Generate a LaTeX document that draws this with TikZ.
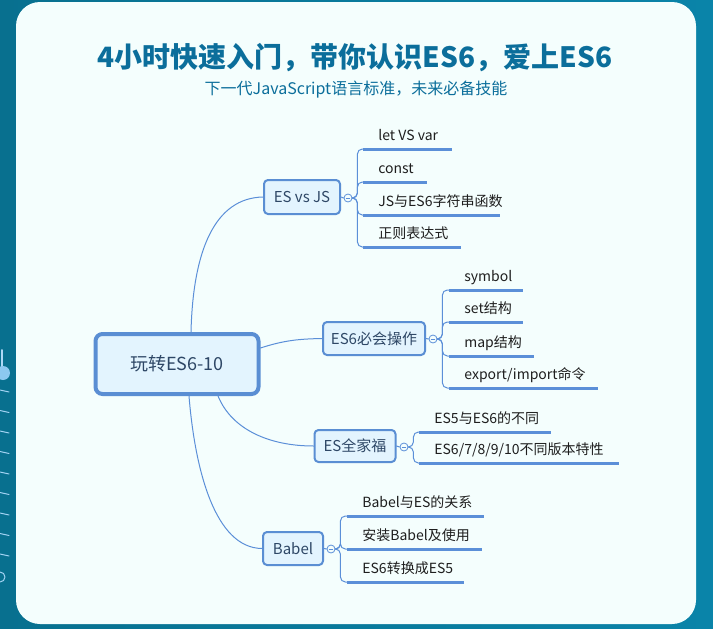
\documentclass[tikz,border=0pt]{standalone}
\usepackage{fontspec}
\setmainfont{Noto Sans CJK SC}
\definecolor{bgteal}{HTML}{0A84A9}
\definecolor{bgdark}{HTML}{08708F}
\definecolor{panel}{HTML}{F4FEFD}
\definecolor{titleblue}{HTML}{0B6E9B}
\definecolor{branch}{HTML}{5B8FD8}
\definecolor{boxline}{HTML}{5A8ED3}
\definecolor{boxfill}{HTML}{E3F4FE}
\definecolor{boxtxt}{HTML}{2E4766}
\definecolor{leaftxt}{HTML}{1E1E1E}
\definecolor{knob}{HTML}{8CC8F0}
\begin{document}
\begin{tikzpicture}[x=1pt,y=-1pt,line join=round,line cap=round,thick]
				\tikzset{every node/.style={text=leaftxt},
					rootbox/.style={draw=boxline,fill=boxfill,line width=4pt,rounded corners=7pt,text=boxtxt,font=\fontsize{18}{18}\selectfont,minimum width=163pt,minimum height=60pt},
					box/.style={draw=boxline,fill=boxfill,line width=2pt,rounded corners=4pt,text=boxtxt,font=\fontsize{15}{15}\selectfont,inner sep=0pt},
					fold/.style={circle,draw=branch,fill=panel,line width=0.8pt,minimum size=8pt,inner sep=0pt,path picture={\draw[branch,line width=0.6pt] ([xshift=-1.8pt]path picture bounding box.center)--([xshift=1.8pt]path picture bounding box.center);}},
					leaf/.style={anchor=south west,inner xsep=15pt,inner ysep=0pt,text height=11pt,text depth=8pt,font=\fontsize{14}{14}\selectfont},
					uline/.style={draw=branch,line width=3pt,line cap=butt},
					link/.style={draw=branch,line width=1pt},
					sub/.style={link,rounded corners=5pt}}
				\useasboundingbox (0,0) rectangle (713,629);
				\shade[left color=bgdark,right color=bgteal] (0,0) rectangle (713,629);
				\fill[panel,rounded corners=24pt] (16,2) rectangle (696,624);
				\draw[knob!70,line width=2pt] (2,350)--(2,373);
				\fill[knob] (3,373) circle (7);
				\foreach \y in {390,410.5,...,556}
				\draw[knob!80,line width=1pt] (0,\y)--(9,\y+2);
				\draw[knob!80,line width=1pt] (0,577) circle (5);
				\node[font=\bfseries\fontsize{28}{28}\selectfont,text=titleblue] (ttl) at (355,58) {4小时快速入门，带你认识ES6，爱上ES6};
				\node[font=\fontsize{16}{16}\selectfont,text=titleblue] (sub) at (356,90) {下一代JavaScript语言标准，未来必备技能};
				\node[rootbox] (root) at (177,364) {玩转ES6-10};
				\node[box,minimum width=76pt,minimum height=34pt] (esjs) at (302,197) {ES vs JS};
				\node[box,minimum width=102pt,minimum height=33pt] (ops) at (374,338.5) {ES6必会操作};
				\node[box,minimum width=81pt,minimum height=32pt] (fam) at (355,446) {ES全家福};
				\node[box,minimum width=60pt,minimum height=33pt] (babel) at (293,548.5) {Babel};
				\node[fold] (fa) at (348,198) {};
				\node[fold] (fb) at (433,339) {};
				\node[fold] (fc) at (404,447) {};
				\node[fold] (fd) at (331,549) {};
				\draw[link] ([xshift=14pt]root.north) .. controls (193,250) and (215,198) .. (esjs.west);
				\draw[link] ([yshift=16pt]root.east) .. controls (285,340) and (300,339) .. (ops.west);
				\draw[link] ([xshift=41pt]root.south) .. controls (232,430) and (270,446) .. (fam.west);
				\draw[link] ([xshift=12pt]root.south) .. controls (195,470) and (215,548) .. (babel.west);
				\draw[link] (esjs.east)--(fa.west);
				\draw[link] (ops.east)--(fb.west);
				\draw[link] (fam.east)--(fc.west);
				\draw[link] (babel.east)--(fd.west);
				\foreach \y/\w/\t [count=\i] in {149/89/let VS var,182/64/const,215/137/JS与ES6字符串函数,247/98/正则表达式}{
					\node[leaf] (a\i) at (363,\y) {\t};
					\draw[uline] (a\i.south west)--++(\w,0);
					\draw[sub] (fa.east)--++(5,0)|-(a\i.south west);
				}
				\foreach \y/\w/\t [count=\i] in {290/74/symbol,322/74/set结构,356/85/map结构,388/149/{export/import命令}}{
					\node[leaf] (b\i) at (449,\y) {\t};
					\draw[uline] (b\i.south west)--++(\w,0);
					\draw[sub] (fb.east)--++(5,0)|-(b\i.south west);
				}
				\foreach \y/\w/\t [count=\i] in {432/132/ES5与ES6的不同,463/200/{ES6/7/8/9/10不同版本特性}}{
					\node[leaf] (c\i) at (419,\y) {\t};
					\draw[uline] (c\i.south west)--++(\w,0);
					\draw[sub] (fc.east)--++(5,0)|-(c\i.south west);
				}
				\foreach \y/\w/\t [count=\i] in {516/137/Babel与ES的关系,549/135/安装Babel及使用,582/117/ES6转换成ES5}{
					\node[leaf] (d\i) at (347,\y) {\t};
					\draw[uline] (d\i.south west)--++(\w,0);
					\draw[sub] (fd.east)--++(5,0)|-(d\i.south west);
				}
			\end{tikzpicture}
\end{document}
